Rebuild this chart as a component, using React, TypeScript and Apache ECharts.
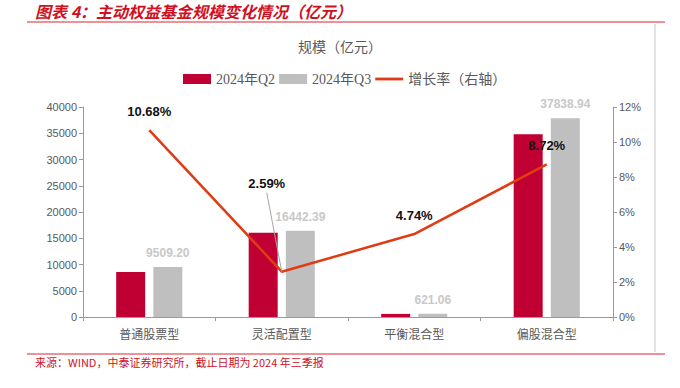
import React, { useEffect, useRef } from "react";
import * as echarts from "echarts";

const categories = ["普通股票型", "灵活配置型", "平衡混合型", "偏股混合型"];
const q2Values = [8592, 16027, 593, 34804];
const q3Values = [9509.2, 16442.39, 621.06, 37838.94];
const growthRates = [10.68, 2.59, 4.74, 8.72];

const SERIF = "'Liberation Serif', 'Noto Sans CJK SC', serif";
const SANS = "'Liberation Sans', Arial, 'Noto Sans CJK SC', sans-serif";

const LABEL_DIST = 12;
const MOVED_INDEX = 1;
const MOVED_DX = -15;
const MOVED_DY = -69;

export default function App() {
  const ref = useRef<HTMLDivElement>(null);
  useEffect(() => {
    if (!ref.current) return;
    const chart = echarts.init(ref.current, undefined, { renderer: "svg" });
    chart.setOption({
      animation: false,
      backgroundColor: "#ffffff",
      title: {
        text: "规模（亿元）",
        left: "center",
        top: 35,
        textStyle: { fontFamily: SERIF, fontSize: 14, fontWeight: "normal", color: "#595959" },
      },
      legend: {
        top: 67,
        left: 178,
        itemGap: 4,
        itemWidth: 28,
        itemHeight: 10,
        textStyle: { fontFamily: SERIF, fontSize: 14, color: "#595959" },
        data: [
          { name: "2024年Q2", icon: "rect" },
          { name: "2024年Q3", icon: "rect" },
          {
            name: "增长率（右轴）",
            icon: "path://M0,0H30V3H0Z",
            itemStyle: { color: "#e03c14", opacity: 1 },
          },
        ],
      },
      grid: { left: 83, right: 67, top: 107, bottom: 71 },
      xAxis: {
        type: "category",
        data: categories,
        axisLine: { lineStyle: { color: "#9a9a9a" } },
        axisTick: { show: true, lineStyle: { color: "#9a9a9a" }, length: 4 },
        axisLabel: { fontFamily: SERIF, fontSize: 12, color: "#595959", margin: 12 },
      },
      yAxis: [
        {
          type: "value",
          min: 0,
          max: 40000,
          interval: 5000,
          splitLine: { show: false },
          axisLine: { show: true, lineStyle: { color: "#9a9a9a" } },
          axisTick: { show: true, length: 4, lineStyle: { color: "#9a9a9a" } },
          axisLabel: {
            fontFamily: SANS,
            fontSize: 11,
            color: "#595959",
            margin: 6,
            formatter: (v: number) => String(v),
          },
        },
        {
          type: "value",
          min: 0,
          max: 12,
          interval: 2,
          splitLine: { show: false },
          axisLine: { show: true, lineStyle: { color: "#9a9a9a" } },
          axisTick: { show: true, length: 4, lineStyle: { color: "#9a9a9a" } },
          axisLabel: { fontFamily: SANS, fontSize: 11, color: "#595959", margin: 6, formatter: "{value}%" },
        },
      ],
      series: [
        {
          name: "2024年Q2",
          type: "bar",
          data: q2Values,
          barWidth: 29,
          barGap: "28%",
          itemStyle: { color: "#c00032" },
        },
        {
          name: "2024年Q3",
          type: "bar",
          data: q3Values,
          barWidth: 29,
          itemStyle: { color: "#bfbfbf" },
          label: {
            show: true,
            position: "top",
            distance: 8,
            fontFamily: SANS,
            fontSize: 12,
            fontWeight: "bold",
            color: "#c8c8c8",
            formatter: (p: any) => p.value.toFixed(2),
          },
        },
        {
          name: "增长率（右轴）",
          type: "line",
          yAxisIndex: 1,
          data: growthRates,
          symbol: "circle",
          symbolSize: 1,
          showSymbol: true,
          lineStyle: { color: "#e03c14", width: 2.5 },
          itemStyle: { color: "rgba(224,60,20,0)" },
          label: {
            show: true,
            position: "top",
            distance: LABEL_DIST,
            fontFamily: SANS,
            fontSize: 13,
            fontWeight: "bold",
            color: "#111111",
            formatter: (p: any) => p.value.toFixed(2) + "%",
          },
          labelLayout: (params: any) =>
            params.dataIndex === MOVED_INDEX ? { dx: MOVED_DX, dy: MOVED_DY } : {},
          z: 5,
        },
        {
          name: "leader",
          type: "custom",
          yAxisIndex: 1,
          silent: true,
          z: 6,
          data: [[MOVED_INDEX, growthRates[MOVED_INDEX]]],
          encode: { x: 0, y: 1 },
          renderItem: (params: any, api: any) => {
            const p = api.coord([api.value(0), api.value(1)]);
            return {
              type: "line",
              shape: {
                x1: p[0] + MOVED_DX,
                y1: p[1] - LABEL_DIST + MOVED_DY + 2,
                x2: p[0],
                y2: p[1],
              },
              style: { stroke: "#a6a6a6", lineWidth: 1, fill: null },
            };
          },
        },
      ],
      graphic: [
        {
          type: "text",
          left: 35,
          top: 3,
          style: {
            text: "图表 4：主动权益基金规模变化情况（亿元）",
            fill: "#d0101e",
            font: "italic bold 16px 'Noto Sans CJK SC', sans-serif",
          },
        },
        { type: "line", shape: { x1: 27, y1: 22, x2: 665, y2: 22 }, style: { stroke: "#d9262c", lineWidth: 1 } },
        { type: "line", shape: { x1: 655, y1: 24, x2: 655, y2: 352 }, style: { stroke: "#e2e2e2", lineWidth: 2 } },
        { type: "line", shape: { x1: 27, y1: 354, x2: 665, y2: 354 }, style: { stroke: "#d9262c", lineWidth: 1 } },
        {
          type: "text",
          left: 35,
          top: 356,
          style: {
            text: "来源：WIND，中泰证券研究所，截止日期为 2024 年三季报",
            fill: "#d0101e",
            font: "11px 'Noto Sans CJK SC', sans-serif",
          },
        },
      ],
    });
    return () => chart.dispose();
  }, []);
  return <div ref={ref} style={{ width: 680, height: 388, position: "absolute", left: 0, top: 0 }} />;
}
